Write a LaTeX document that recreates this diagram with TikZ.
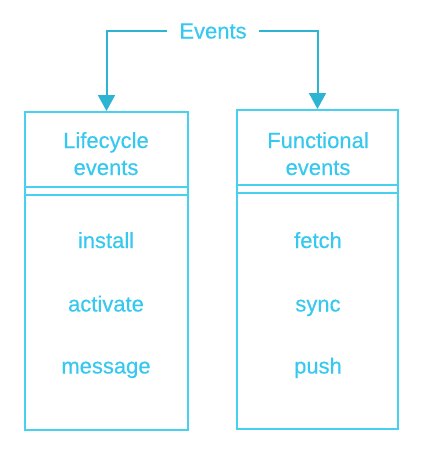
\documentclass[tikz,border=0pt]{standalone}
\usepackage{fontspec}
\setmainfont{Liberation Sans}[FakeBold=0.4]
\usetikzlibrary{arrows.meta}
\definecolor{boxc}{HTML}{48D0F0}
\definecolor{txtc}{HTML}{36C8EE}
\definecolor{arrc}{HTML}{2DB4D3}
\tikzset{
  box/.style={draw=boxc, line width=2pt, minimum width=163pt, inner sep=0pt},
  lbl/.style={text=txtc, font=\fontsize{22}{27}\selectfont, align=center, inner sep=0pt, anchor=base},
  conn/.style={draw=arrc, line width=2pt, -{Triangle[width=17pt,length=16pt]}},
  divl/.style={draw=boxc, line width=2pt}
}
\begin{document}
\begin{tikzpicture}[x=1pt,y=-1pt]
\useasboundingbox (0,0) rectangle (424,453);
% boxes
\node[box, minimum width=163pt, minimum height=318pt] (L) at (106.5,271) {};
\node[box, minimum width=161pt, minimum height=319pt] (R) at (317.5,269.5) {};
% dividers
\draw[divl] ([yshift=-76pt]L.north west) -- ([yshift=-76pt]L.north east);
\draw[divl] ([yshift=-84pt]L.north west) -- ([yshift=-84pt]L.north east);
\draw[divl] ([yshift=-76pt]R.north west) -- ([yshift=-76pt]R.north east);
\draw[divl] ([yshift=-84pt]R.north west) -- ([yshift=-84pt]R.north east);
% headers
\node[lbl] (lh) at (106,175) {Lifecycle\\events};
\node[lbl] (rh) at (318,175) {Functional\\events};
% items
\node[lbl] (l1) at (106,248) {install};
\node[lbl] (l2) at (106,311.5) {activate};
\node[lbl] (l3) at (106,373.5) {message};
\node[lbl] (r1) at (318,248) {fetch};
\node[lbl] (r2) at (318,311.5) {sync};
\node[lbl] (r3) at (318,373.5) {push};
% top label
\node[lbl, inner xsep=12pt, inner ysep=0pt] (ev) at (213,38.5) {Events};
\draw[conn] (ev.west) -| (L.north);
\draw[conn] (ev.east) -| (R.north);
\end{tikzpicture}
\end{document}
